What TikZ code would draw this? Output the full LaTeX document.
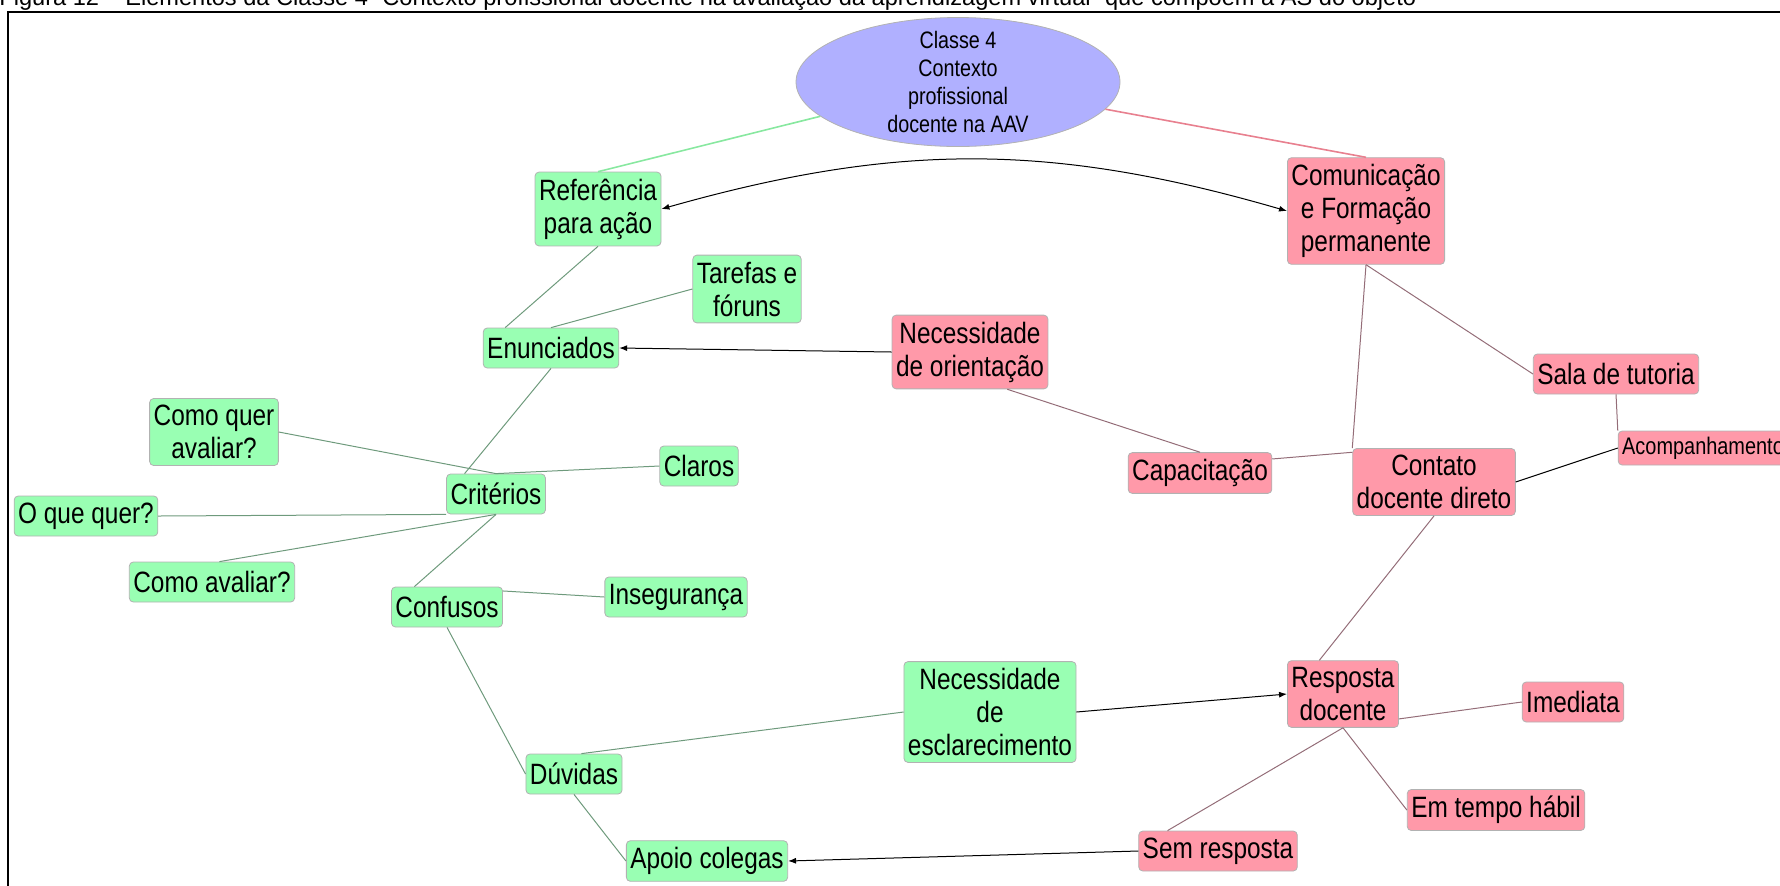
\documentclass[tikz,border=0pt]{standalone}
\usepackage{fontspec}
\setmainfont{Liberation Sans}
\newfontfamily\mapfont{Liberation Sans}[FakeStretch=0.83]
\usepackage{tikz}
\usetikzlibrary{shapes.geometric}
\usetikzlibrary{arrows.meta}
\definecolor{boxverde}{HTML}{99FFB3}
\definecolor{boxrosa}{HTML}{FF99A9}
\definecolor{lilas}{HTML}{B0B0FF}
\definecolor{linhaverde}{HTML}{6E9A7C}
\definecolor{linharosa}{HTML}{946D78}
\definecolor{ligaverde}{HTML}{88E8A0}
\definecolor{ligarosa}{HTML}{E8808F}

\begin{document}
\begin{tikzpicture}[x=0.5pt, y=-0.5pt,
  conceito/.style={draw=gray!60, rounded corners=2pt, align=center, inner xsep=2pt, inner ysep=3.3pt, minimum height=20pt, font=\mapfont\fontsize{14.7}{16.5}\selectfont},
  verde/.style={conceito, fill=boxverde},
  rosa/.style={conceito, fill=boxrosa},
  lv/.style={draw=linhaverde, line width=0.5pt},
  lr/.style={draw=linharosa, line width=0.5pt},
  seta/.style={draw=black, line width=0.5pt, -{Latex[length=4pt,width=3pt]}}]

\useasboundingbox (0,0) rectangle (1780,885);
\draw[line width=1.3pt] (8,12) rectangle (1800,905);
\node[anchor=base west, inner sep=0pt, font=\fontsize{11.8}{12}\selectfont] (titulo) at (-1,5) {Figura 12 – Elementos da Classe 4 “Contexto profissional docente na avaliação da aprendizagem virtual” que compõem a AS do objeto};

\node[ellipse, draw=gray!60, fill=lilas, minimum width=162pt, minimum height=64.5pt, inner xsep=0pt, inner ysep=-4pt, align=center, font=\mapfont\fontsize{11.9}{14}\selectfont] (classe) at (958,82) {Classe 4\\Contexto\\profissional\\docente na AAV};

\node[verde] (ref) at (598,209) {Referência\\para ação};
\node[verde] (tarefas) at (747,289) {Tarefas e\\fóruns};
\node[verde] (enun) at (551,348) {Enunciados};
\node[verde] (crit) at (496,494) {Critérios};
\node[verde] (claros) at (699,466) {Claros};
\node[verde] (comoquer) at (214,432) {Como quer\\avaliar?};
\node[verde] (oque) at (86,516) {O que quer?};
\node[verde] (comoav) at (212,582) {Como avaliar?};
\node[verde] (confus) at (447,607) {Confusos};
\node[verde] (inseg) at (676,597) {Insegurança};
\node[verde] (duvidas) at (574,774) {Dúvidas};
\node[verde] (apoio) at (707,861) {Apoio colegas};
\node[verde] (esclar) at (990,712) {Necessidade\\de\\esclarecimento};

\node[rosa] (orient) at (970,352) {Necessidade\\de orientação};
\node[rosa] (capac) at (1200,473) {Capacitação};
\node[rosa] (comun) at (1366,211) {Comunicação\\e Formação\\permanente};
\node[rosa] (sala) at (1616,374) {Sala de tutoria};
\node[rosa, font=\mapfont\fontsize{12}{14}\selectfont, minimum height=17pt, inner ysep=2.5pt] (acomp) at (1703,448) {Acompanhamento};
\node[rosa] (contato) at (1434,482) {Contato\\docente direto};
\node[rosa] (resposta) at (1343,694) {Resposta\\docente};
\node[rosa] (imediata) at (1573,702) {Imediata};
\node[rosa] (emtempo) at (1496,810) {Em tempo hábil};
\node[rosa] (semresp) at (1218,851) {Sem resposta};

\draw[draw=ligaverde, line width=0.8pt] (classe) -- (ref.north);
\draw[draw=ligarosa, line width=0.8pt] (classe) -- (comun.north);

\draw[lv] (ref.south) -- (enun.156);
\draw[lv] (tarefas.west) -- (enun.north);
\draw[lv] (enun.south) -- (crit.147);
\draw[lv] (comoquer.east) -- (crit.north);
\draw[lv] (crit.north) -- (claros.west);
\draw[lv] (oque.east) -- (crit.south west);
\draw[lv] (comoav.70) -- (crit.south);
\draw[lv] (crit.south) -- (confus.148);
\draw[lv] (confus.16) -- (inseg.west);
\draw[lv] (confus.south) -- (duvidas.west);
\draw[lv] (duvidas.70) -- (esclar.west);
\draw[lv] (duvidas.south) -- (apoio.west);

\draw[lr] (orient.-45) -- (capac.north);
\draw[lr] (capac.11) -- (contato.160);
\draw[lr] (comun.south) -- (contato.north west);
\draw[lr] (comun.south) -- (sala.west);
\draw[lr] (sala.south) -- (acomp.north west);
\draw[lr] (contato.south) -- (resposta.125);
\draw[lr] (resposta.south) -- (semresp.158);
\draw[lr] (resposta.south) -- (emtempo.west);
\draw[lr] (resposta.-24) -- (imediata.west);
\draw[line width=0.5pt] (contato.east) -- (acomp.west);

\draw[seta] (orient.west) -- (enun.east);
\draw[seta] (esclar.east) -- (resposta.west);
\draw[seta] (semresp.west) -- (apoio.east);
\draw[seta, {Latex[length=4pt,width=3pt]}-{Latex[length=4pt,width=3pt]}] (ref.east) to[bend left=16] (comun.west);

\end{tikzpicture}
\end{document}
